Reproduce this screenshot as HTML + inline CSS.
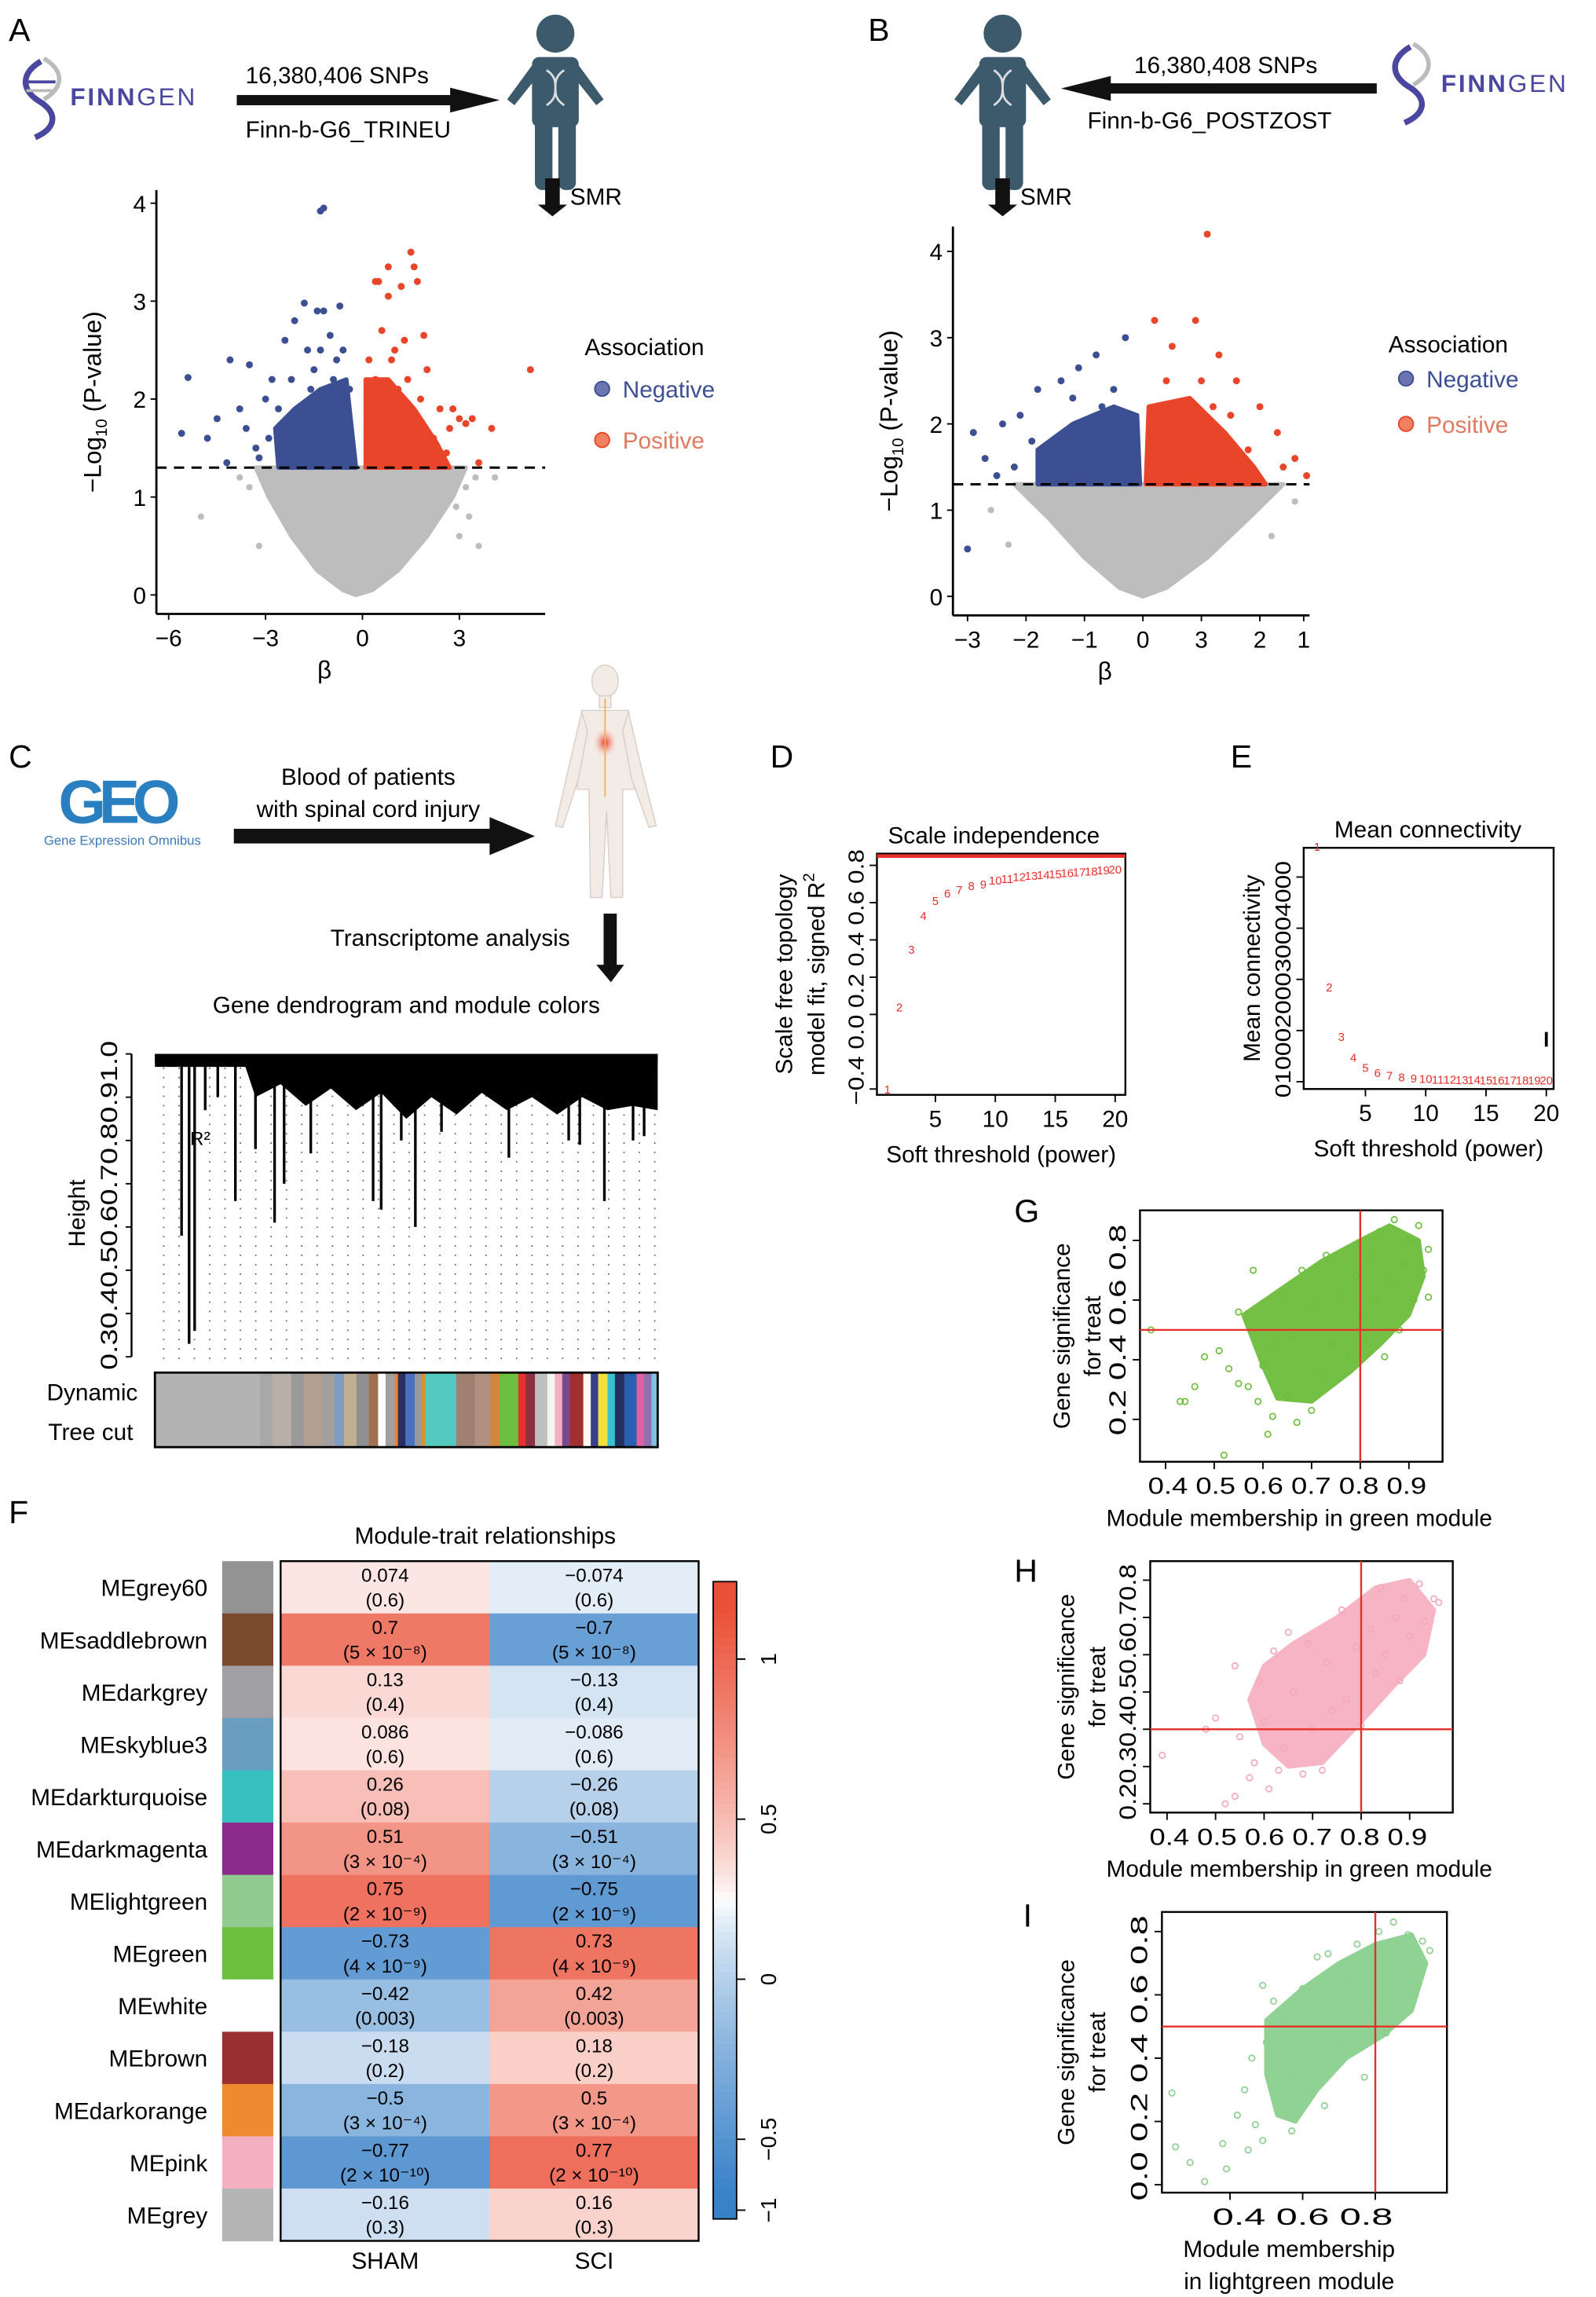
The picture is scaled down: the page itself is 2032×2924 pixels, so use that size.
<!DOCTYPE html>
<html><head><meta charset="utf-8"><style>
html,body{margin:0;padding:0;background:#fff}
svg{display:block}
text{font-family:"Liberation Sans",sans-serif;fill:#000}
</style></head><body>
<svg id="fig" width="2032" height="2924" viewBox="0 0 1092 1571.4" preserveAspectRatio="none" xmlns="http://www.w3.org/2000/svg">
<defs>
<radialGradient id="rg"><stop offset="0" stop-color="#e8302a"/><stop offset="1" stop-color="#f6c8b0" stop-opacity="0"/></radialGradient>
</defs>
<g font-size="22">
<text x="6" y="28">A</text><text x="594" y="28">B</text><text x="6" y="525">C</text><text x="527" y="525">D</text><text x="842" y="525">E</text><text x="6" y="1042">F</text><text x="694" y="836">G</text><text x="694" y="1082">H</text><text x="700" y="1318">I</text>
</g>

<g>
<path d="M28,42 C14,50 14,62 28,70 C40,78 38,88 24,94" stroke="#4a47a0" stroke-width="4" fill="none"/>
<path d="M30,40 C44,48 44,60 30,68" stroke="#bbb" stroke-width="3" fill="none"/>
<line x1="18" y1="56" x2="38" y2="56" stroke="#4a47a0" stroke-width="2"/><line x1="18" y1="62" x2="38" y2="62" stroke="#bbb" stroke-width="2"/>
<text x="48" y="72" font-size="17" font-weight="bold" style="fill:#4a47a0;letter-spacing:1.5px">FINN<tspan font-weight="normal">GEN</tspan></text>
</g>
<g><rect x="162" y="65" width="150" height="7" fill="#111"/><path d="M308,60 L342,68.5 L308,77Z" fill="#111"/></g>
<text x="168" y="57" font-size="16">16,380,406 SNPs</text>
<text x="168" y="94" font-size="16">Finn-b-G6_TRINEU</text>
<g fill="#3d5a6c">
<circle cx="380" cy="23" r="13"/><rect x="364" y="39" width="32" height="48" rx="5"/><path d="M366,42 L347,68 L352,72 L368,52Z M394,42 L413,68 L408,72 L392,52Z"/><rect x="366" y="80" width="12" height="50" rx="5"/><rect x="382" y="80" width="12" height="50" rx="5"/>
<path d="M374,48 C386,56 374,64 386,72 M386,48 C374,56 386,64 374,72" stroke="#ddd" stroke-width="1.5" fill="none"/>
</g>
<rect x="373" y="122" width="10" height="20" fill="#111"/><path d="M368,140 L388,140 L378,148Z" fill="#111"/>
<text x="390" y="140" font-size="16">SMR</text>

<g fill="#3d5a6c">
<circle cx="686" cy="23" r="13"/><rect x="670" y="39" width="32" height="48" rx="5"/><path d="M672,42 L653,68 L658,72 L674,52Z M700,42 L719,68 L714,72 L698,52Z"/><rect x="672" y="80" width="12" height="50" rx="5"/><rect x="688" y="80" width="12" height="50" rx="5"/>
<path d="M680,48 C692,56 680,64 692,72 M692,48 C680,56 692,64 680,72" stroke="#ddd" stroke-width="1.5" fill="none"/>
</g>
<g><rect x="755" y="57" width="187" height="7" fill="#111"/><path d="M760,52 L726,60.5 L760,69Z" fill="#111"/></g>
<text x="776" y="50" font-size="16">16,380,408 SNPs</text>
<text x="744" y="88" font-size="16">Finn-b-G6_POSTZOST</text>
<g>
<path d="M965,32 C951,40 951,52 965,60 C977,68 975,78 961,84" stroke="#4a47a0" stroke-width="4" fill="none"/>
<path d="M967,30 C981,38 981,50 967,58" stroke="#bbb" stroke-width="3" fill="none"/>
<text x="986" y="63" font-size="17" font-weight="bold" style="fill:#4a47a0;letter-spacing:1.5px">FINN<tspan font-weight="normal">GEN</tspan></text>
</g>
<rect x="681" y="122" width="10" height="20" fill="#111"/><path d="M676,140 L696,140 L686,148Z" fill="#111"/>
<text x="698" y="140" font-size="16">SMR</text>

<g id="volA"></g>
<g id="volB"></g>

<g>
<text x="40" y="563" font-size="42" font-weight="bold" style="fill:#2a7fc0;letter-spacing:-5px">GEO</text>
<text x="30" y="578" font-size="9" style="fill:#3c7ab8">Gene Expression Omnibus</text>
</g>
<text x="252" y="537" font-size="16" text-anchor="middle">Blood of patients</text>
<text x="252" y="559" font-size="16" text-anchor="middle">with spinal cord injury</text>
<g><rect x="160" y="567" width="180" height="10" fill="#111"/><path d="M335,559 L366,572 L335,585Z" fill="#111"/></g>
<g fill="#f3ebe6" stroke="#d8cfc8" stroke-width="0.8">
<ellipse cx="414" cy="466" rx="9" ry="11"/><rect x="410" y="476" width="8" height="8"/>
<path d="M398,486 L430,486 L434,540 L426,540 L426,614 L418,614 L415,555 L412,614 L404,614 L403,540 L395,540Z"/>
<path d="M398,487 L388,530 L380,565 L385,566 L396,532 L402,500Z M430,487 L440,530 L449,565 L444,566 L432,532 L426,500Z"/>
<ellipse cx="414" cy="508" rx="8" ry="10" fill="url(#rg)" stroke="none"/>
<line x1="414" y1="478" x2="414" y2="545" stroke="#f0b060" stroke-width="1"/>
</g>
<rect x="413" y="625" width="9" height="38" fill="#111"/><path d="M408,660 L427,660 L418,672Z" fill="#111"/>
<text x="308" y="647" font-size="16" text-anchor="middle">Transcriptome analysis</text>
<text x="278" y="693" font-size="16" text-anchor="middle">Gene dendrogram and module colors</text>
<g id="dendro"></g>

<g id="panD"></g>
<g id="panE"></g>
<g id="heat"></g>
<g id="panG"></g>
<g id="panH"></g>
<g id="panI"></g>
</svg>
<script>
const volA_neg=[[-5.6,1.65],[-5.4,2.22],[-4.8,1.6],[-4.5,1.8],[-4.2,1.35],[-3.8,1.9],[-3.5,2.35],[-4.1,2.4],[-3.3,1.5],[-3.0,2.0],[-2.8,2.2],[-2.4,2.6],[-2.1,2.8],[-1.8,2.98],[-1.4,2.9],[-1.2,2.9],[-1.0,2.65],[-0.7,2.95],[-1.3,3.92],[-1.2,3.95],[-0.6,2.5],[-1.6,2.1],[-2.5,1.5],[-1.9,1.4],[-0.9,2.2],[-2.0,1.9],[-1.1,1.6],[-0.5,1.8],[-3.6,1.7],[-2.9,1.6],[-1.5,2.3],[-2.2,2.2],[-0.8,2.4],[-1.3,2.5],[-2.6,1.9],[-3.2,1.4],[-1.7,2.5],[-0.4,2.1]];
const volA_pos=[[0.2,2.4],[0.4,3.2],[0.5,3.2],[0.8,3.05],[0.8,3.35],[1.2,3.15],[1.5,3.5],[1.6,3.35],[1.7,3.2],[1.9,2.65],[1.3,2.6],[0.6,2.7],[2.8,1.9],[3.0,1.8],[3.2,1.75],[3.4,1.8],[4.0,1.7],[5.2,2.3],[3.6,1.35],[2.6,1.45],[1.8,2.0],[1.1,2.1],[0.3,1.9],[2.2,1.6],[1.5,1.5],[2.4,1.9],[2.0,2.3],[0.9,2.4],[1.4,2.2],[0.4,2.2],[2.7,1.7],[1.0,2.5]];
const volA_ns=[[-5.0,0.8],[-3.5,1.1],[3.5,1.2],[3.6,0.5],[4.1,1.2],[3.3,0.8],[-3.8,1.2],[2.9,0.9],[-3.2,0.5],[3.0,0.6],[-3.0,1.1],[3.2,1.1]];
const volA_cloud=[[-3.3,1.3],[-2.9,1.0],[-2.2,0.6],[-1.4,0.25],[-0.6,0.05],[-0.2,0],[0.3,0.05],[1.1,0.25],[2.0,0.6],[2.8,1.0],[3.2,1.3]];
const volA_negCloud=[[-2.6,1.3],[-2.7,1.7],[-2.1,1.9],[-1.3,2.1],[-0.5,2.2],[-0.2,1.3]];
const volA_posCloud=[[0.1,1.3],[0.1,2.2],[0.8,2.2],[1.6,1.9],[2.3,1.55],[2.7,1.3]];
const volA_xticks=[-6,-3,0,3], volA_yticks=[0,1,2,3,4];

const volB_neg=[[-2.9,1.9],[-2.7,1.6],[-3.0,0.55],[-2.4,2.0],[-2.1,2.1],[-1.8,2.4],[-1.4,2.5],[-1.1,2.65],[-0.8,2.8],[-0.3,3.0],[-0.5,2.4],[-1.6,1.6],[-2.2,1.5],[-1.0,2.0],[-0.4,1.7],[-2.5,1.4],[-1.2,2.3],[-0.7,2.2],[-1.9,1.8]];
const volB_pos=[[0.2,3.2],[0.5,2.9],[1.1,4.2],[0.9,3.2],[1.3,2.8],[1.6,2.5],[2.0,2.2],[2.3,1.9],[2.6,1.6],[2.8,1.4],[1.2,2.2],[0.7,2.0],[1.8,1.7],[2.4,1.5],[0.4,2.5],[1.0,2.5],[1.5,2.1]];
const volB_ns=[[-2.6,1.0],[2.6,1.1],[2.2,0.7],[-2.3,0.6]];
const volB_cloud=[[-2.2,1.3],[-1.6,0.9],[-1.0,0.45],[-0.4,0.1],[0,0],[0.4,0.1],[1.1,0.45],[1.8,0.9],[2.4,1.3]];
const volB_negCloud=[[-1.8,1.3],[-1.8,1.7],[-1.2,2.0],[-0.5,2.2],[-0.1,2.1],[-0.05,1.3]];
const volB_posCloud=[[0.05,1.3],[0.1,2.2],[0.8,2.3],[1.4,1.9],[1.9,1.5],[2.1,1.3]];
const volB_xtickVals=[-3,-2,-1,0,1,2,2.75], volB_xtickLabels=["−3","−2","−1","0","3","2","1"], volB_yticks=[0,1,2,3,4];

const dendroDrops=[[0.053,0.58],[0.068,0.33],[0.079,0.36],[0.1,0.87],[0.125,0.9],[0.16,0.66],[0.2,0.78],[0.238,0.61],[0.257,0.7],[0.31,0.77],[0.434,0.66],[0.45,0.64],[0.49,0.8],[0.518,0.6],[0.57,0.82],[0.704,0.76],[0.823,0.8],[0.845,0.79],[0.894,0.66],[0.951,0.8],[0.973,0.81]];
const dendroMass=[[0.18,0.97],[0.2,0.9],[0.25,0.93],[0.3,0.88],[0.35,0.92],[0.4,0.87],[0.45,0.91],[0.5,0.85],[0.55,0.9],[0.6,0.86],[0.65,0.91],[0.7,0.87],[0.75,0.9],[0.8,0.86],[0.85,0.9],[0.9,0.87],[0.95,0.88],[1.0,0.87]];
const dendroYticks=["0.3","0.4","0.5","0.6","0.7","0.8","0.9","1.0"];
const moduleStripColors=["#b3b3b3","#a8a8a8","#b8b0a8","#9a9a9a","#b4a090","#a0a0a0","#7d9cc0","#c0b090","#909090","#a07050","#ffffff","#a0a0a0","#f08030","#2a3060","#4a70c0","#999","#e09020","#55c8c0","#a08070","#b09080","#d08840","#6cc040","#e83030","#8a3040","#c0c0c0","#f5f5f0","#f0b0c0","#7a4a90","#a03030","#fff8f0","#3a4090","#f0e040","#3ac0d0","#203060","#2a60b0","#e060a0","#9070b0","#80c0e0"];
const moduleStripWidths=[0.17,0.02,0.03,0.02,0.03,0.02,0.015,0.02,0.02,0.015,0.012,0.015,0.005,0.012,0.015,0.012,0.005,0.05,0.03,0.025,0.015,0.03,0.012,0.015,0.02,0.012,0.012,0.012,0.022,0.012,0.012,0.015,0.012,0.015,0.02,0.012,0.012,0.01];

const softPower=[1,2,3,4,5,6,7,8,9,10,11,12,13,14,15,16,17,18,19,20];
const sftR2=[-0.4,0.04,0.35,0.53,0.61,0.65,0.67,0.69,0.70,0.72,0.73,0.74,0.745,0.75,0.755,0.76,0.765,0.77,0.775,0.78];
const meanK=[4600,1850,880,480,280,180,120,90,70,60,50,45,40,38,35,33,31,30,29,28];
const dYticks=["−0.4","0.0","0.2","0.4","0.6","0.8"], dYtickVals=[-0.4,0,0.2,0.4,0.6,0.8];
const eYticks=[0,1000,2000,3000,4000], pxTicks=[5,10,15,20];

const modules=["MEgrey60","MEsaddlebrown","MEdarkgrey","MEskyblue3","MEdarkturquoise","MEdarkmagenta","MElightgreen","MEgreen","MEwhite","MEbrown","MEdarkorange","MEpink","MEgrey"];
const moduleColors=["#939393","#7b4a2e","#a0a0a4","#6a9ec0","#38c0c0","#8b2a8b","#90cc90","#6cc040","#ffffff","#9a3030","#f08a30","#f4b0c0","#b4b4b4"];
const corSham=[0.074,0.7,0.13,0.086,0.26,0.51,0.75,-0.73,-0.42,-0.18,-0.5,-0.77,-0.16];
const corSci=[-0.074,-0.7,-0.13,-0.086,-0.26,-0.51,-0.75,0.73,0.42,0.18,0.5,0.77,0.16];
const pvals=["(0.6)","(5 × 10⁻⁸)","(0.4)","(0.6)","(0.08)","(3 × 10⁻⁴)","(2 × 10⁻⁹)","(4 × 10⁻⁹)","(0.003)","(0.2)","(3 × 10⁻⁴)","(2 × 10⁻¹⁰)","(0.3)"];
const traits=["SHAM","SCI"];
const legendTicks=[1,0.5,0,-0.5,-1], legendLabels=["1","0.5","0","−0.5","−1"];

const gPts=[[0.37,0.5],[0.43,0.26],[0.44,0.26],[0.46,0.31],[0.48,0.41],[0.51,0.43],[0.52,0.08],[0.53,0.37],[0.55,0.56],[0.55,0.32],[0.57,0.31],[0.58,0.7],[0.59,0.26],[0.6,0.38],[0.61,0.15],[0.62,0.21],[0.62,0.45],[0.64,0.62],[0.65,0.28],[0.66,0.48],[0.67,0.19],[0.68,0.7],[0.7,0.23],[0.7,0.58],[0.72,0.35],[0.73,0.75],[0.74,0.45],[0.76,0.62],[0.78,0.4],[0.79,0.68],[0.8,0.55],[0.81,0.47],[0.82,0.75],[0.83,0.6],[0.84,0.83],[0.85,0.41],[0.86,0.66],[0.87,0.87],[0.88,0.5],[0.89,0.72],[0.9,0.8],[0.91,0.6],[0.92,0.85],[0.93,0.7],[0.94,0.77],[0.94,0.61]];
const gCloud=[[0.56,0.55],[0.6,0.38],[0.63,0.27],[0.7,0.26],[0.78,0.36],[0.84,0.45],[0.9,0.55],[0.93,0.68],[0.92,0.8],[0.86,0.85],[0.8,0.8],[0.72,0.73],[0.64,0.64]];
const hPts=[[0.39,0.33],[0.48,0.4],[0.5,0.43],[0.52,0.2],[0.54,0.22],[0.54,0.57],[0.55,0.38],[0.57,0.27],[0.58,0.31],[0.59,0.53],[0.6,0.42],[0.61,0.24],[0.62,0.61],[0.63,0.29],[0.64,0.35],[0.65,0.66],[0.66,0.5],[0.68,0.28],[0.69,0.63],[0.7,0.4],[0.72,0.29],[0.73,0.58],[0.74,0.45],[0.76,0.72],[0.77,0.48],[0.79,0.62],[0.8,0.41],[0.82,0.67],[0.83,0.55],[0.84,0.78],[0.85,0.6],[0.87,0.7],[0.88,0.53],[0.89,0.75],[0.9,0.65],[0.92,0.79],[0.93,0.69],[0.95,0.75],[0.96,0.74]];
const hCloud=[[0.57,0.48],[0.6,0.36],[0.65,0.3],[0.72,0.31],[0.8,0.42],[0.87,0.52],[0.93,0.6],[0.95,0.72],[0.9,0.8],[0.83,0.78],[0.75,0.7],[0.66,0.63],[0.6,0.57]];
const iPts=[[0.24,0.29],[0.25,0.12],[0.29,0.07],[0.33,0.01],[0.38,0.13],[0.39,0.05],[0.42,0.22],[0.44,0.3],[0.45,0.11],[0.46,0.4],[0.47,0.19],[0.49,0.63],[0.49,0.14],[0.5,0.45],[0.52,0.58],[0.53,0.28],[0.55,0.52],[0.57,0.17],[0.58,0.35],[0.6,0.62],[0.62,0.3],[0.64,0.72],[0.66,0.25],[0.67,0.73],[0.7,0.45],[0.72,0.65],[0.75,0.76],[0.77,0.34],[0.79,0.55],[0.81,0.8],[0.83,0.48],[0.85,0.83],[0.87,0.69],[0.89,0.79],[0.91,0.6],[0.93,0.77],[0.95,0.74]];
const iCloud=[[0.5,0.52],[0.5,0.35],[0.53,0.22],[0.58,0.2],[0.64,0.3],[0.72,0.4],[0.82,0.47],[0.9,0.55],[0.94,0.7],[0.9,0.79],[0.8,0.76],[0.7,0.7],[0.6,0.62]];

const NS="http://www.w3.org/2000/svg";
function mk(parent,tag,attrs,txt){const e=document.createElementNS(NS,tag);for(const k in attrs)e.setAttribute(k,attrs[k]);if(txt!==undefined)e.textContent=txt;parent.appendChild(e);return e;}
function poly(parent,pts,sx,sy,fill,name){const e=mk(parent,'polygon',{points:pts.map(p=>sx(p[0])+','+sy(p[1])).join(' '),fill:fill,stroke:fill,'stroke-width':3,'stroke-linejoin':'round'});

return e;}
function dots(parent,pts,sx,sy,r,fill,stroke,name){pts.forEach(p=>{const c=mk(parent,'circle',{cx:sx(p[0]),cy:sy(p[1]),r:r,fill:fill,stroke:stroke,'stroke-width':0.9});

});}

function volcano(g,o){
  const sx=b=>o.x0+o.kx*b, sy=p=>o.y0-o.ky*p;
  poly(g,o.cloud,sx,sy,'#bdbdbd','ns-cloud');
  dots(g,o.ns,sx,sy,2.2,'#bdbdbd','none','ns-point');
  poly(g,o.negCloud,sx,sy,'#3d4f93','negative-cloud');
  poly(g,o.posCloud,sx,sy,'#e8452a','positive-cloud');
  dots(g,o.neg,sx,sy,2.4,'#3d4f93','none','negative-point');
  dots(g,o.pos,sx,sy,2.4,'#e8452a','none','positive-point');
  const dl=mk(g,'line',{x1:o.ax,x2:o.right,y1:sy(1.3),y2:sy(1.3),stroke:'#000','stroke-width':1.6,'stroke-dasharray':'7,5'});
  
  
  mk(g,'line',{x1:o.ax,x2:o.ax,y1:o.top,y2:o.bottom,stroke:'#000','stroke-width':1.5});
  mk(g,'line',{x1:o.ax,x2:o.right,y1:o.bottom,y2:o.bottom,stroke:'#000','stroke-width':1.5});
  o.yt.forEach(v=>{mk(g,'line',{x1:o.ax-4,x2:o.ax,y1:sy(v),y2:sy(v),stroke:'#000'});
    const t=mk(g,'text',{x:o.ax-7,y:sy(v)+6,'font-size':16,'text-anchor':'end'},String(v));
    
    });
  o.xt.forEach((v,i)=>{mk(g,'line',{x1:sx(v),x2:sx(v),y1:o.bottom,y2:o.bottom+4,stroke:'#000'});
    const t=mk(g,'text',{x:sx(v),y:o.bottom+22,'font-size':16,'text-anchor':'middle'},o.xl[i]);
    
    });
  const xl=mk(g,'text',{x:o.x0-26,y:o.bottom+44,'font-size':17,'text-anchor':'middle'},'β');
  
  
  const yl=mk(g,'text',{x:0,y:0,'font-size':17,'text-anchor':'middle',transform:`translate(${o.ax-38},${(o.top+o.bottom)/2}) rotate(-90)`});
  
  
  yl.innerHTML='−Log<tspan font-size="11" dy="4">10</tspan><tspan dy="-4"> (P-value)</tspan>';
  const lg=mk(g,'g',{});
  
  
  mk(lg,'text',{x:o.lx,y:o.ly,'font-size':16},'Association');
  mk(lg,'circle',{cx:o.lx+12,cy:o.ly+o.ld1-6,r:5,fill:'#6a74b0',stroke:'#3d4f93'});
  mk(lg,'text',{x:o.lx+26,y:o.ly+o.ld1,'font-size':16,style:'fill:#3d4f93'},'Negative');
  mk(lg,'circle',{cx:o.lx+12,cy:o.ly+o.ld2-6,r:5,fill:'#f08060',stroke:'#e8452a'});
  mk(lg,'text',{x:o.lx+26,y:o.ly+o.ld2,'font-size':16,style:'fill:#e07a60'},'Positive');
}
volcano(document.getElementById('volA'),{x0:248,kx:22.1,y0:407,ky:67,ax:107,right:373,top:130,bottom:420,
  cloud:volA_cloud,ns:volA_ns,negCloud:volA_negCloud,posCloud:volA_posCloud,neg:volA_neg,pos:volA_pos,
  yt:volA_yticks,xt:volA_xticks,xl:volA_xticks.map(v=>v<0?'−'+(-v):String(v)),lx:400,ly:243,ld1:29,ld2:64});
volcano(document.getElementById('volB'),{x0:782,kx:40,y0:408,ky:59,ax:652,right:896,top:155,bottom:421,
  cloud:volB_cloud,ns:volB_ns,negCloud:volB_negCloud,posCloud:volB_posCloud,neg:volB_neg,pos:volB_pos,
  yt:volB_yticks,xt:volB_xtickVals,xl:volB_xtickLabels,lx:950,ly:241,ld1:24,ld2:55});

(function(){
  const g=document.getElementById('dendro');
  const L=106,R=450, sx=f=>L+f*(R-L), sy=h=>721+(1-h)*296;
  for(let x=112;x<=448;x+=10.5){mk(g,'line',{x1:x,x2:x,y1:sy(0.99),y2:sy(0.285),stroke:'#555','stroke-width':0.9,'stroke-dasharray':'0.9,5.5'});}
  const pts=[[0,1.0],[0,0.97]].concat(dendroMass).concat([[1.0,1.0]]);
  const pl=mk(g,'polygon',{points:pts.map(p=>sx(p[0])+','+sy(p[1])).join(' '),fill:'#000'});
  
  
  mk(g,'rect',{x:L,y:sy(1.0),width:R-L,height:6,fill:'#000'});
  dendroDrops.forEach(d=>{const l=mk(g,'line',{x1:sx(d[0]),x2:sx(d[0]),y1:sy(0.98),y2:sy(d[1]),stroke:'#000','stroke-width':1.8});
    
    });
  mk(g,'text',{x:sx(0.07),y:sy(0.79),'font-size':13},'R²');
  mk(g,'line',{x1:90,x2:90,y1:sy(1.0),y2:sy(0.3),stroke:'#000','stroke-width':1.3});
  dendroYticks.forEach(v=>{const y=sy(parseFloat(v));mk(g,'line',{x1:86,x2:90,y1:y,y2:y,stroke:'#000'});});
  const tl=mk(g,'text',{'font-size':16,'text-anchor':'middle',transform:`translate(80,${(sy(1.0)+sy(0.3))/2}) rotate(-90)`,textLength:sy(0.3)-sy(1.0)+18,lengthAdjust:'spacingAndGlyphs'},dendroYticks.join(''));
  
  
  const yt=mk(g,'text',{'font-size':16,'text-anchor':'middle',transform:'translate(58,830) rotate(-90)'},'Height');
  
  
  const tot=moduleStripWidths.reduce((a,b)=>a+b,0);let acc=0;
  moduleStripColors.forEach((c,i)=>{const w=moduleStripWidths[i]/tot*(R-L);const r=mk(g,'rect',{x:L+acc,y:939,width:w+0.3,height:51,fill:c});acc+=w;
    
    });
  mk(g,'rect',{x:L,y:939,width:R-L,height:51,fill:'none',stroke:'#000','stroke-width':1.5});
  mk(g,'text',{x:32,y:958,'font-size':16},'Dynamic');
  mk(g,'text',{x:33,y:985,'font-size':16},'Tree cut');
})();

function softPanel(g,o){
  const sx=k=>o.x0+o.kx*k, sy=v=>o.yb-(v-o.vmin)/(o.vmax-o.vmin)*o.h;
  mk(g,'text',{x:o.tx,y:o.ty,'font-size':16,'text-anchor':'middle'},o.title);
  mk(g,'rect',{x:o.bx,y:o.by,width:o.bw,height:o.bh,fill:'none',stroke:'#000','stroke-width':1.3});
  if(o.hline!==undefined){const hl=mk(g,'line',{x1:o.bx,x2:o.bx+o.bw,y1:sy(o.hline),y2:sy(o.hline),stroke:'#e8302a','stroke-width':2.5});
    
    }
  softPower.forEach((k,i)=>{const t=mk(g,'text',{x:sx(k),y:sy(o.vals[i])+3,'font-size':8,'text-anchor':'middle',style:'fill:#e8302a'},String(k));
    
    });
  pxTicks.forEach(k=>{mk(g,'line',{x1:sx(k),x2:sx(k),y1:o.by+o.bh,y2:o.by+o.bh+5,stroke:'#000'});
    mk(g,'text',{x:sx(k),y:o.by+o.bh+22,'font-size':16,'text-anchor':'middle'},String(k));});
  mk(g,'text',{x:o.bx+o.bw/2,y:o.by+o.bh+46,'font-size':16,'text-anchor':'middle'},'Soft threshold (power)');
  o.yv.forEach(v=>mk(g,'line',{x1:o.bx-5,x2:o.bx,y1:sy(v),y2:sy(v),stroke:'#000'}));
  const tl=mk(g,'text',{'font-size':15,'text-anchor':'middle',transform:`translate(${o.bx-9},${(sy(o.yv[0])+sy(o.yv[o.yv.length-1]))/2}) rotate(-90)`,textLength:sy(o.yv[0])-sy(o.yv[o.yv.length-1])+22,lengthAdjust:'spacingAndGlyphs'},o.yl.join(o.sep));
  
  
  o.ytitle.forEach((s,i)=>{const t=mk(g,'text',{'font-size':16,'text-anchor':'middle',transform:`translate(${o.ytx+i*22},${o.by+o.bh/2}) rotate(-90)`},'');t.innerHTML=s;
    
    });
}
softPanel(document.getElementById('panD'),{x0:599,kx:8.2,yb:745,vmin:-0.4,vmax:0.8,h:153,bx:600,by:584,bw:170,bh:165,
  tx:680,ty:577,title:'Scale independence',hline:0.85,vals:sftR2,yv:dYtickVals,yl:dYticks,sep:' ',
  ytitle:['Scale free topology','model fit, signed R<tspan font-size="11" dy="-7">2</tspan>'],ytx:542});
softPanel(document.getElementById('panE'),{x0:893,kx:8.25,yb:740,vmin:0,vmax:4000,h:140,bx:892,by:580,bw:171,bh:165,
  tx:977,ty:573,title:'Mean connectivity',vals:meanK,yv:eYticks,yl:eYticks.map(String),sep:'',
  ytitle:['Mean connectivity'],ytx:862});
(function(){const t=mk(document.getElementById('panE'),'line',{x1:1058,x2:1058,y1:706,y2:716,stroke:'#000','stroke-width':2});

})();

function corColor(v){const t=Math.min(1,Math.abs(v)/1.0);const w=[255,255,255];const end=v>=0?[234,80,56]:[58,130,200];
  const e=Math.pow(t,0.75);return 'rgb('+w.map((c,i)=>Math.round(c+(end[i]-c)*e)).join(',')+')';}
(function(){
  const g=document.getElementById('heat');
  const X0=192,X1=478,Y0=1068,Y1=1533,rh=(Y1-Y0)/modules.length,cw=(X1-X0)/2;
  mk(g,'text',{x:332,y:1056,'font-size':16,'text-anchor':'middle'},'Module-trait relationships');
  modules.forEach((m,i)=>{
    const y=Y0+i*rh;
    const lab=mk(g,'text',{x:142,y:y+rh/2+6,'font-size':16,'text-anchor':'end'},m);
    
    
    const sw=mk(g,'rect',{x:152,y:y,width:35,height:rh+0.3,fill:moduleColors[i]});
    
    
    [corSham[i],corSci[i]].forEach((v,j)=>{
      const c=mk(g,'rect',{x:X0+j*cw,y:y,width:cw+0.3,height:rh+0.3,fill:corColor(v)});
      
      
      const s=(v<0?'−'+(-v):String(v));
      mk(g,'text',{x:X0+j*cw+cw/2,y:y+14,'font-size':13,'text-anchor':'middle'},s);
      mk(g,'text',{x:X0+j*cw+cw/2,y:y+31,'font-size':13,'text-anchor':'middle'},pvals[i]);
    });
  });
  mk(g,'rect',{x:X0,y:Y0,width:X1-X0,height:Y1-Y0,fill:'none',stroke:'#000','stroke-width':1.3});
  traits.forEach((t,j)=>{const e=mk(g,'text',{x:X0+j*cw+cw/2,y:1552,'font-size':16,'text-anchor':'middle'},t);
    
    });
  const lb=mk(g,'g',{});
  
  
  const LY0=1082,LY1=1518;
  const ly=v=>Math.min(1512,1354-v*219);
  const n=80,v0=(LY1-LY0)/n;
  for(let k=0;k<n;k++){const yy=LY0+k*v0;const val=Math.max(-1,Math.min(1,(1300-(yy+v0/2))/200));
    mk(lb,'rect',{x:488,y:yy,width:16,height:v0+0.4,fill:corColor(val)});}
  mk(lb,'rect',{x:488,y:LY0,width:16,height:LY1-LY0,fill:'none',stroke:'#000','stroke-width':1});
  legendTicks.forEach((v,i)=>{mk(lb,'line',{x1:504,x2:510,y1:ly(v),y2:ly(v),stroke:'#000'});
    mk(lb,'text',{'font-size':15,'text-anchor':'middle',transform:`translate(531,${ly(v)}) rotate(-90)`},legendLabels[i]);});
})();

function scat(g,o){
  const sx=m=>o.xa+(m-o.xv)*o.kx, sy=v=>o.ya-(v-o.yv)*o.ky;
  poly(g,o.cloud,sx,sy,o.fill,'point-cloud');
  dots(g,o.pts,sx,sy,2,'none',o.col,'gene-point');
  mk(g,'rect',{x:o.bx,y:o.by,width:o.bw,height:o.bh,fill:'none',stroke:'#000','stroke-width':1.3});
  const v=mk(g,'line',{x1:sx(o.vx),x2:sx(o.vx),y1:o.by,y2:o.by+o.bh,stroke:'#e8302a','stroke-width':1.3});
  
  
  const h=mk(g,'line',{x1:o.bx,x2:o.bx+o.bw,y1:sy(o.hy),y2:sy(o.hy),stroke:'#e8302a','stroke-width':1.3});
  
  
  o.xt.forEach(t=>{mk(g,'line',{x1:sx(t),x2:sx(t),y1:o.by+o.bh,y2:o.by+o.bh+5,stroke:'#000'});});
  const xtl=mk(g,'text',{x:(sx(o.xt[0])+sx(o.xt[o.xt.length-1]))/2,y:o.by+o.bh+22,'font-size':16,'text-anchor':'middle',textLength:sx(o.xt[o.xt.length-1])-sx(o.xt[0])+24,lengthAdjust:'spacingAndGlyphs'},o.xt.map(t=>t.toFixed(1)).join(o.xsep));
  
  
  o.yt.forEach(t=>{mk(g,'line',{x1:o.bx-5,x2:o.bx,y1:sy(t),y2:sy(t),stroke:'#000'});});
  const ytl=mk(g,'text',{'font-size':16,'text-anchor':'middle',transform:`translate(${o.bx-10},${(sy(o.yt[0])+sy(o.yt[o.yt.length-1]))/2}) rotate(-90)`,textLength:sy(o.yt[0])-sy(o.yt[o.yt.length-1])+22,lengthAdjust:'spacingAndGlyphs'},o.yt.map(t=>t.toFixed(1)).join(o.ysep));
  
  
  o.xlab.forEach((s,i)=>{const t=mk(g,'text',{x:o.xlx,y:o.by+o.bh+44+i*22,'font-size':16,'text-anchor':'middle'},s);
    
    });
  ['Gene significance','for treat'].forEach((s,i)=>{const t=mk(g,'text',{'font-size':16,'text-anchor':'middle',transform:`translate(${o.ylx+i*21},${o.by+o.bh/2}) rotate(-90)`},s);
    
    });
}
scat(document.getElementById('panG'),{xa:797.5,xv:0.4,kx:333,ya:971,yv:0.2,ky:204,pts:gPts,cloud:gCloud,col:'#6cbf3c',fill:'#74c044',
  bx:780,by:828,bw:207,bh:172,vx:0.8,hy:0.5,xt:[0.4,0.5,0.6,0.7,0.8,0.9],yt:[0.2,0.4,0.6,0.8],xsep:' ',ysep:'   ',xlab:['Module membership in green module'],xlx:889,ylx:732});
scat(document.getElementById('panH'),{xa:798.5,xv:0.4,kx:332,ya:1234,yv:0.2,ky:255,pts:hPts,cloud:hCloud,col:'#f4a8bc',fill:'#f6b4c4',
  bx:787,by:1068,bw:207,bh:172,vx:0.8,hy:0.4,xt:[0.4,0.5,0.6,0.7,0.8,0.9],yt:[0.2,0.3,0.4,0.5,0.6,0.7,0.8],xsep:' ',ysep:'',xlab:['Module membership in green module'],xlx:889,ylx:735});
scat(document.getElementById('panI'),{xa:841.6,xv:0.4,kx:248.5,ya:1494.6,yv:0,ky:216.5,pts:iPts,cloud:iCloud,col:'#8ccf90',fill:'#90d294',
  bx:795,by:1308,bw:195,bh:192,vx:0.8,hy:0.5,xt:[0.4,0.6,0.8],yt:[0,0.2,0.4,0.6,0.8],xsep:'     ',ysep:'   ',xlab:['Module membership','in lightgreen module'],xlx:882,ylx:735});
</script>
</body></html>
